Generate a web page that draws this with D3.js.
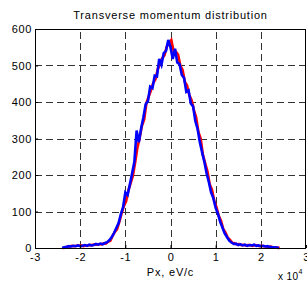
<!DOCTYPE html>
<head>
<meta charset="utf-8">
<style>
body { margin: 0; background: #fff; }
text { font-family: "Liberation Sans", Arial, sans-serif; }
</style>
</head>
<body>
<div id="chart"></div>
<script src="https://cdnjs.cloudflare.com/ajax/libs/d3/7.8.5/d3.min.js"></script>
<script>
// bin centres of the Px histogram, eV/c
var pxBins = d3.range(-24000, 24001, 500);

var redCounts = [
  0,1,4,4,6,5,6,6,7,5,
  7,7,8,8,10,9,11,10,13,12,
  17,20,33,44,52,72,95,115,128,158,
  178,198,235,275,302,335,352,398,415,432,
  452,462,490,505,520,528,552,562,570,540,
  538,530,500,488,455,445,418,405,378,358,
  318,300,255,232,210,175,160,130,112,88,
  75,52,42,28,22,14,13,10,11,8,
  9,7,8,8,6,8,7,5,6,5,
  5,3,4,2,2,1,0
];

var blueCounts = [
  0,2,3,5,4,6,5,7,5,6,
  8,6,9,7,8,11,9,12,10,14,
  16,22,30,41,55,68,92,112,152,145,
  174,205,236,322,290,328,358,394,402,442,
  438,472,470,518,502,534,540,570,550,518,
  546,508,504,474,466,428,432,396,388,348,
  326,290,262,236,204,180,152,136,110,94,
  72,56,40,30,20,15,11,12,8,10,
  7,9,6,8,7,9,6,7,5,6,
  4,5,3,2,2,1,0
];

var xTicks = [-30000, -20000, -10000, 0, 10000, 20000, 30000];
var yTicks = [0, 100, 200, 300, 400, 500, 600];

var width = 307, height = 281;
var plotL = 35, plotR = 306, plotT = 29, plotB = 248;

var svg = d3.select("#chart").append("svg")
  .attr("width", width)
  .attr("height", height);

var x = d3.scaleLinear().domain([-30000, 30000]).range([plotL, plotR]);
var y = d3.scaleLinear().domain([0, 600]).range([plotB, plotT]);

// grid
var grid = svg.append("g")
  .attr("stroke", "#333")
  .attr("stroke-width", 1)
  .attr("stroke-dasharray", "7,4");

grid.selectAll("line.vx")
  .data(xTicks.slice(1, -1)).enter().append("line")
  .attr("class", "vx")
  .attr("x1", function(d) { return Math.round(x(d)) + 0.5; })
  .attr("x2", function(d) { return Math.round(x(d)) + 0.5; })
  .attr("y1", plotB)
  .attr("y2", plotT);

grid.selectAll("line.hy")
  .data(yTicks.slice(1, -1)).enter().append("line")
  .attr("class", "hy")
  .attr("x1", plotL)
  .attr("x2", plotR)
  .attr("y1", function(d) { return Math.round(y(d)) + 0.5; })
  .attr("y2", function(d) { return Math.round(y(d)) + 0.5; });

// curves
var line = d3.line()
  .x(function(d) { return x(d[0]); })
  .y(function(d) { return y(d[1]); });

svg.append("path")
  .datum(d3.zip(pxBins, redCounts))
  .attr("fill", "none")
  .attr("stroke", "#ff0000")
  .attr("stroke-width", 2.6)
  .attr("transform", "translate(0.8,0)")
  .attr("d", line);

svg.append("path")
  .datum(d3.zip(pxBins, blueCounts))
  .attr("fill", "none")
  .attr("stroke", "#0000ff")
  .attr("stroke-width", 2.6)
  .attr("d", line);

// axes
var xAxis = d3.axisBottom(x)
  .tickValues(xTicks)
  .tickSize(-3)
  .tickPadding(5)
  .tickFormat(function(d) { return String(d / 10000); });

var yAxis = d3.axisLeft(y)
  .tickValues(yTicks)
  .tickSize(-3)
  .tickPadding(3)
  .tickFormat(function(d) { return String(d); });

var gx = svg.append("g")
  .attr("transform", "translate(0," + plotB + ")")
  .call(xAxis);
var gy = svg.append("g")
  .attr("transform", "translate(" + plotL + ",0)")
  .call(yAxis);

[gx, gy].forEach(function(g) {
  g.select(".domain").remove();
  g.selectAll("line").attr("stroke", "#000");
  g.selectAll("text")
    .attr("fill", "#000")
    .style("font-size", "11px")
    .style("letter-spacing", "0.6px")
    .style("font-family", "'Liberation Sans', Arial, sans-serif");
});

svg.append("rect")
  .attr("x", plotL + 0.5)
  .attr("y", plotT + 0.5)
  .attr("width", plotR - plotL - 1)
  .attr("height", plotB - plotT)
  .attr("fill", "none")
  .attr("stroke", "#000")
  .attr("stroke-width", 1);

// labels
svg.append("text")
  .attr("x", (plotL + plotR) / 2)
  .attr("y", 19)
  .attr("text-anchor", "middle")
  .style("font-size", "11px")
  .style("letter-spacing", "0.8px")
  .text("Transverse momentum distribution");

svg.append("text")
  .attr("x", (plotL + plotR) / 2)
  .attr("y", 276)
  .attr("text-anchor", "middle")
  .style("font-size", "11px")
  .style("letter-spacing", "0.8px")
  .text("Px, eV/c");

var mult = svg.append("text")
  .attr("x", 278)
  .attr("y", 280)
  .style("font-size", "10px")
  .style("letter-spacing", "0.4px");
mult.append("tspan").text("x 10");
mult.append("tspan")
  .attr("dy", -6)
  .style("font-size", "7px")
  .text("4");
</script>
</body>
</html>
